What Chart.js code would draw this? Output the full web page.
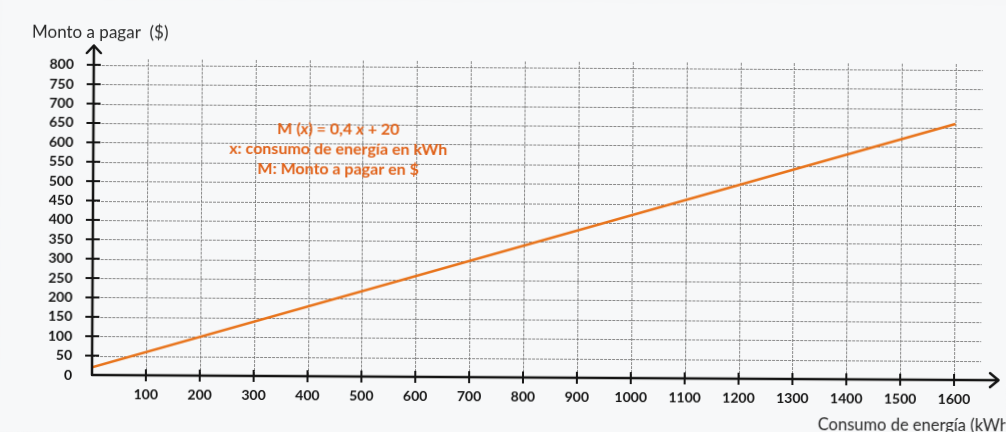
<!DOCTYPE html>
<html>
<head>
<meta charset="utf-8">
<script src="https://cdn.jsdelivr.net/npm/chart.js@4.4.0/dist/chart.umd.min.js"></script>
<style>
  html, body { margin: 0; padding: 0; background: #f6f7f8; overflow: hidden; }
  #wrap { width: 1006px; height: 432px; transform: rotate(0.33deg); transform-origin: 92px 375px; }
  canvas { display: block; }
</style>
</head>
<body>
<div id="wrap"><canvas id="chart" width="1006" height="432"></canvas></div>
<script>
// Consumo (kWh) y monto a pagar ($) en los extremos del tramo graficado
const consumoKWh = [0, 1600];
const montoPesos = [20, 660];

// Marcas de los ejes
const xTickValues = [100, 200, 300, 400, 500, 600, 700, 800, 900, 1000, 1100, 1200, 1300, 1400, 1500, 1600];
const yTickValues = [0, 50, 100, 150, 200, 250, 300, 350, 400, 450, 500, 550, 600, 650, 700, 750, 800];

const yTitle = 'Monto a pagar  ($)';
const xTitle = 'Consumo de energía (kWh)';
const notaLinea2 = 'x: consumo de energía en kWh';
const notaLinea3 = 'M: Monto a pagar en $';

const INK = '#141414';
const ORANGE = '#e0621a';
const FONT = 'Lato, "Open Sans", sans-serif';

const puntos = consumoKWh.map((x, i) => ({ x, y: montoPesos[i] }));

// Fondo, cuadrícula punteada, ejes con flechas, títulos y nota de la función
const papel = {
  id: 'papel',
  beforeDraw(chart) {
    const { ctx, width, height } = chart;
    ctx.save();
    ctx.fillStyle = '#f7f8f9';
    ctx.fillRect(0, 0, width, height);
    ctx.restore();
  },
  beforeDatasetsDraw(chart) {
    const { ctx, chartArea: a, scales: { x, y } } = chart;
    ctx.save();
    ctx.strokeStyle = 'rgba(110,110,110,0.8)';
    ctx.lineWidth = 1;
    ctx.setLineDash([3, 1]);
    xTickValues.forEach(v => {
      const px = Math.round(x.getPixelForValue(v)) + 0.5;
      ctx.beginPath(); ctx.moveTo(px, a.top); ctx.lineTo(px, a.bottom); ctx.stroke();
    });
    yTickValues.filter(v => v > 0).forEach(v => {
      const py = Math.round(y.getPixelForValue(v)) + 0.5;
      ctx.beginPath(); ctx.moveTo(a.left, py); ctx.lineTo(a.right, py); ctx.stroke();
    });
    ctx.restore();
  },
  afterDatasetsDraw(chart) {
    const { ctx, scales: { x, y } } = chart;
    const ox = x.getPixelForValue(0);
    const oy = y.getPixelForValue(0);
    ctx.save();
    ctx.strokeStyle = INK;
    ctx.lineWidth = 2.5;
    ctx.lineCap = 'round';
    ctx.lineJoin = 'round';
    // ejes
    ctx.beginPath();
    ctx.moveTo(ox, 46); ctx.lineTo(ox, oy); ctx.lineTo(998, oy);
    ctx.stroke();
    // flechas
    ctx.beginPath();
    ctx.moveTo(ox - 7, 53); ctx.lineTo(ox, 45.5); ctx.lineTo(ox + 7, 53);
    ctx.moveTo(990, oy - 7); ctx.lineTo(998.5, oy); ctx.lineTo(990, oy + 7);
    ctx.stroke();
    // marcas cruzadas
    ctx.lineWidth = 2;
    ctx.lineCap = 'butt';
    yTickValues.filter(v => v > 0).forEach(v => {
      const py = y.getPixelForValue(v);
      ctx.beginPath(); ctx.moveTo(ox - 7, py); ctx.lineTo(ox + 7, py); ctx.stroke();
    });
    xTickValues.forEach(v => {
      const px = x.getPixelForValue(v);
      ctx.beginPath(); ctx.moveTo(px, oy - 6); ctx.lineTo(px, oy + 6); ctx.stroke();
    });

    // títulos de los ejes
    ctx.fillStyle = '#2a2a2a';
    ctx.textBaseline = 'alphabetic';
    ctx.textAlign = 'left';
    ctx.font = '17px ' + FONT;
    ctx.fillText(yTitle, 30, 38);
    ctx.font = '16.5px ' + FONT;
    ctx.fillText(xTitle, 818, 426);

    // nota con la función
    const cx = 337;
    ctx.fillStyle = ORANGE;
    const partes = [
      ['M (', false], ['x', true], [') = 0,4 ', false], ['x', true], [' + 20', false]
    ];
    const fNormal = 'bold 16px ' + FONT;
    const fItal = 'italic bold 16px ' + FONT;
    let ancho = 0;
    partes.forEach(([t, it]) => { ctx.font = it ? fItal : fNormal; ancho += ctx.measureText(t).width; });
    let px = cx - ancho / 2;
    partes.forEach(([t, it]) => {
      ctx.font = it ? fItal : fNormal;
      ctx.fillText(t, px, 133);
      px += ctx.measureText(t).width;
    });
    ctx.font = fNormal;
    ctx.textAlign = 'center';
    ctx.fillText(notaLinea2, cx, 153);
    ctx.fillText(notaLinea3, cx, 173);
    ctx.restore();
  }
};

new Chart(document.getElementById('chart'), {
  type: 'scatter',
  data: {
    datasets: [{
      data: puntos,
      showLine: true,
      borderColor: '#e8741c',
      borderWidth: 2.6,
      pointRadius: 0,
      fill: false
    }]
  },
  options: {
    responsive: false,
    animation: false,
    devicePixelRatio: 1,
    layout: { padding: { left: 0, top: 59, right: 25, bottom: 0 } },
    plugins: { legend: { display: false }, tooltip: { enabled: false } },
    scales: {
      x: {
        type: 'linear',
        min: 0,
        max: 1650,
        afterFit(s) { s.height = 57; },
        grid: { display: false },
        border: { display: false },
        ticks: {
          stepSize: 100,
          includeBounds: false,
          autoSkip: false,
          maxRotation: 0,
          padding: 3,
          color: INK,
          font: { family: FONT, size: 14, weight: 'bold' },
          callback: v => (xTickValues.includes(v) ? String(v) : '')
        }
      },
      y: {
        type: 'linear',
        min: 0,
        max: 815,
        afterFit(s) { s.width = 92; },
        grid: { display: false },
        border: { display: false },
        ticks: {
          stepSize: 50,
          includeBounds: false,
          autoSkip: false,
          padding: 12,
          color: INK,
          font: { family: FONT, size: 14, weight: 'bold' },
          callback: v => (yTickValues.includes(v) ? String(v) : '')
        }
      }
    }
  },
  plugins: [papel]
});
</script>
</body>
</html>
